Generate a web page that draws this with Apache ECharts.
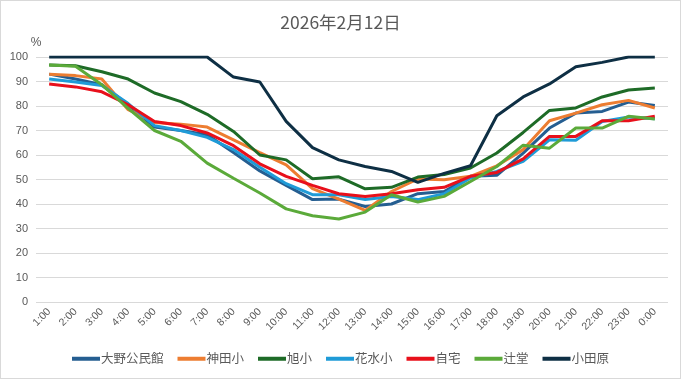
<!DOCTYPE html>
<html><head><meta charset="utf-8">
<script src="https://cdn.jsdelivr.net/npm/echarts@6/dist/echarts.min.js"></script>
<style>
html,body{margin:0;padding:0;background:#fff;}
#c{width:679px;height:377px;border:1px solid #D9D9D9;}
</style></head>
<body><div id="c"></div>
<script>
const categories = ["1:00","2:00","3:00","4:00","5:00","6:00","7:00","8:00","9:00","10:00","11:00","12:00","13:00","14:00","15:00","16:00","17:00","18:00","19:00","20:00","21:00","22:00","23:00","0:00"];
const yTicks = [0,10,20,30,40,50,60,70,80,90,100];
const seriesNames = ["大野公民館","神田小","旭小","花水小","自宅","辻堂","小田原"];
const ono     = [93,91,88.7,80.5,71.4,70,68.3,61,53.5,47.6,41.8,42,39,40,44.2,45.1,51.3,51.7,60.8,71,77.1,77.8,81.6,80.2];
const kanda   = [93,92.4,91,78.5,73.3,72.6,71.4,66.2,61,56,46.3,42,37.4,45.1,50.2,49.9,51.3,55.6,62.2,74,77.1,80.5,82.3,79.2];
const asahi   = [96.7,96.4,94,91,85.3,81.8,76.6,69.6,60,58,50.3,51.1,46.2,46.8,51,52,54.7,60.8,69.2,78.2,79.2,83.7,86.5,87.3];
const hanamizu= [91,89.8,88.4,81,72,70,67.2,62.2,55,48.3,43.8,43.8,41.8,43.1,41.8,44.2,50.6,53.3,57.4,66.2,66,73.7,75.5,74.8];
const home    = [89,87.8,85.8,80.5,73.7,72,69,63.8,56.4,51.3,47.6,44.2,43.1,44.2,45.8,46.8,51.3,52.9,58.4,67.6,67.6,74,74,75.8];
const tsujido = [96.7,96.2,88.7,79,70,65.6,56.7,50.5,44.5,38,35.2,33.9,36.7,43.8,40.8,43.1,49.2,55.3,64,62.8,71,71,75.8,74.7];
const odawara = [100,100,100,100,100,100,100,91.8,89.8,73.7,63,58,55.3,53.3,48.8,52.5,55.6,76,83.7,89,96,97.8,100,100];
const colors = ["#255E91","#ED7D31","#1E6B27","#1F9BD7","#E8101B","#5BAA3A","#0E2F44"];
const dataList = [ono,kanda,asahi,hanamizu,home,tsujido,odawara];

const chart = echarts.init(document.getElementById('c'));
chart.setOption({
  animation:false,
  backgroundColor:'#fff',
  title:{text:'2026年2月12日',left:'center',top:8,textStyle:{fontSize:17.5,fontWeight:'normal',color:'#595959',fontFamily:'Noto Sans CJK JP'}},
  grid:{left:35,right:12,top:56,bottom:76},
  legend:{bottom:8,left:'center',itemWidth:28,itemHeight:4,itemGap:14,icon:'rect',
    textStyle:{fontSize:12.5,color:'#595959',fontFamily:'Noto Sans CJK JP',padding:[0,0,0,-4]},
    data:seriesNames},
  xAxis:{type:'category',data:categories,boundaryGap:true,
    axisLine:{show:false},axisTick:{show:false},
    axisLabel:{rotate:45,fontSize:10.5,color:'#595959',margin:8,interval:0,fontFamily:'Liberation Sans'}},
  yAxis:{type:'value',min:0,max:100,interval:10,name:'%',nameLocation:'end',nameGap:8,
    nameTextStyle:{color:'#595959',fontSize:12,align:'center',padding:[0,0,0,0]},
    axisLine:{show:false},axisTick:{show:false},
    axisLabel:{color:'#595959',fontSize:11,margin:8,fontFamily:'Liberation Sans',
      formatter:v=>yTicks.includes(v)?String(v):''},
    splitLine:{lineStyle:{color:'#D9D9D9',width:1}}},
  series:seriesNames.map((n,i)=>({name:n,type:'line',data:dataList[i],symbol:'none',
    lineStyle:{width:3,color:colors[i]},itemStyle:{color:colors[i]}}))
});
</script></body></html>
